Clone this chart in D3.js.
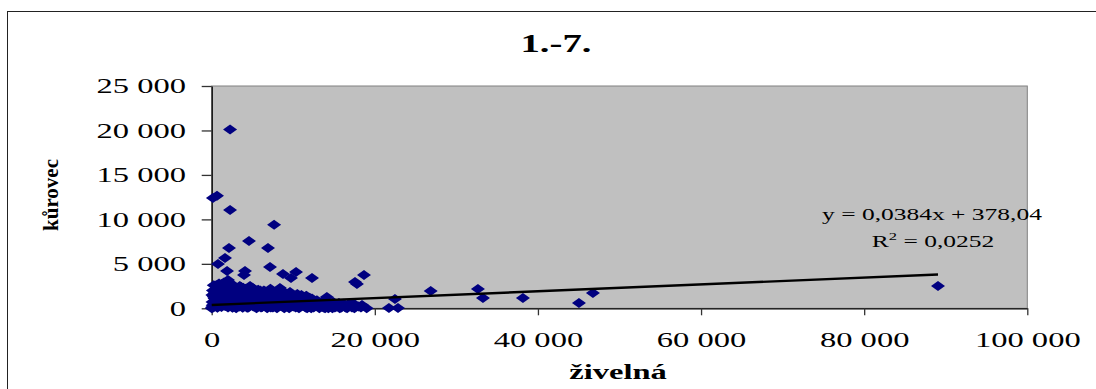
<!DOCTYPE html>
<html>
<head>
<meta charset="utf-8">
<script src="https://cdn.jsdelivr.net/npm/d3@7"></script>
<style>
  body { margin: 0; background: #fff; }
  svg { display: block; }
  text { font-family: "Liberation Serif", "Times New Roman", serif; fill: #000; }
</style>
</head>
<body>
<svg id="chart" width="1096" height="389"></svg>
<script>
// [živelná, kůrovec] pairs for the period 1.-7.
const samples = [
  // scattered larger values
  [2250, 20100], [150, 12400], [650, 12650], [2250, 11050], [7650, 9400],
  [4570, 7580], [2120, 6790], [6900, 6790], [1630, 5660], [770, 4990],
  [1880, 4200], [4080, 4200], [3960, 3750], [7150, 4650], [8740, 3860],
  [10340, 4090], [9720, 3410], [12300, 3410], [17570, 2960], [18670, 3750],
  [17810, 2740], [26850, 1950], [14120, 1270], [17310, 600], [18430, 370],
  [22470, 1050], [21730, 30], [22840, 30], [32640, 2170], [33260, 1160],
  [38160, 1160], [45030, 600], [46740, 1720], [89050, 2510], [2000, 3190],
  [4700, 2510], [8370, 2290], [9600, 1840],
  // dense group near the origin
  [0, 0], [50, 120], [120, 350], [200, 80], [300, 600], [350, 1100], [80, 1500],
  [150, 2000], [250, 2600], [400, 1800], [450, 300], [500, 900], [600, 1400],
  [650, 2200], [700, 50], [800, 700], [850, 1200], [900, 2800], [1000, 400],
  [1050, 1700], [1100, 2400], [1200, 150], [1300, 1000], [1350, 2000], [1450, 600],
  [1500, 2900], [1600, 1300], [1650, 250], [1750, 1900], [1800, 800], [1900, 2500],
  [2000, 100], [2100, 1500], [2200, 2100], [2300, 500], [2400, 1100], [2500, 2700],
  [2600, 300], [2700, 1700], [2800, 900], [2900, 2300], [3000, 0],
  [100, 700], [250, 1300], [550, 2600], [750, 1800], [950, 300], [1150, 900],
  [1250, 2700], [1400, 1500], [1550, 2200], [1700, 500], [1850, 1200], [2050, 2800],
  [2150, 700], [2350, 1900], [2450, 2400], [2550, 50], [2750, 1200], [2850, 2000],
  [2950, 600],
  [3100, 1300], [3200, 600], [3300, 2000], [3400, 200], [3500, 1600], [3600, 2400],
  [3700, 900], [3800, 50], [3900, 1900], [4000, 1200], [4100, 400], [4200, 2200],
  [4300, 800], [4400, 1500], [4500, 100], [4600, 2000], [4700, 1000], [4800, 500],
  [4900, 1700], [5000, 2300], [5100, 200], [5200, 1300], [5300, 700], [5400, 1900],
  [5500, 0], [5600, 1100], [5700, 2100], [5800, 400], [5900, 1500], [6000, 800],
  [6100, 1800], [6200, 150], [6300, 1200], [6400, 2000], [6500, 500], [6600, 1400],
  [6700, 900], [6800, 0], [6900, 1700], [7000, 300], [7100, 1100], [7200, 2200],
  [7300, 600], [7400, 1500], [7500, 100], [7600, 1000], [7700, 1800], [7800, 400],
  [7900, 1300], [8000, 0], [8100, 800], [8200, 1600], [8300, 250], [8500, 1100],
  [8600, 2000], [8700, 500], [8800, 1400], [8900, 0],
  [3150, 2200], [3350, 1000], [3450, 2500], [3550, 300], [3750, 1500], [3850, 2300],
  [4050, 700], [4250, 1700], [4350, 50], [4550, 1300], [4750, 2300], [4850, 900],
  [5050, 1500], [5150, 2000], [5350, 300], [5450, 1200], [5650, 1700], [5750, 600],
  [5950, 2000], [6050, 100], [6250, 1600], [6350, 800], [6550, 1900], [6650, 200],
  [6850, 1300], [6950, 700], [7150, 1700], [7250, 100], [7450, 1100], [7550, 1900],
  [7750, 700], [7850, 1600], [8050, 1300], [8250, 500], [8450, 1700], [8650, 200],
  [8850, 900],
  [9100, 900], [9200, 300], [9400, 1300], [9500, 0], [9700, 700], [9900, 1500],
  [10000, 200], [10200, 1000], [10400, 500], [10500, 1600], [10700, 0], [10900, 800],
  [11100, 1200], [11200, 300], [11400, 600], [11600, 1400], [11700, 0], [11900, 900],
  [12100, 400], [12300, 1100], [12500, 100], [12700, 700],
  [9000, 1600], [9300, 700], [9600, 1100], [9800, 300], [10100, 1300], [10300, 100],
  [10600, 900], [10800, 400], [11000, 1500], [11300, 900], [11500, 100], [11800, 500],
  [12000, 1200], [12200, 0], [12400, 800], [12600, 300], [12900, 900],
  [13000, 300], [13200, 0], [13500, 600], [13700, 100], [14000, 400], [14300, 0],
  [14600, 300], [14900, 700], [15100, 100], [15400, 400], [15700, 0], [16000, 300],
  [16400, 100], [16800, 500], [17200, 100], [18000, 200], [19000, 0],
  [13100, 500], [13400, 200], [13600, 800], [13900, 0], [14200, 600], [14500, 200],
  [14800, 0], [15000, 500], [15300, 200], [15600, 600], [15900, 100], [16200, 500],
  [16600, 0], [17000, 300], [17500, 0], [18300, 100]
];

const xTicks = [0, 20000, 40000, 60000, 80000, 100000];
const yTicks = [0, 5000, 10000, 15000, 20000, 25000];

// linear trend reported for the series
const trendSlope = 0.0384;
const trendIntercept = 378.04;
const trendEquation = "y = 0,0384x + 378,04";
const rSquared = "0,0252";

const titleText = "1.-7.";
const xTitle = "živelná";
const yTitle = "kůrovec";

// ---------------------------------------------------------------
const svg = d3.select("#chart");
const stretch = 1.55;               // wide lettering
const plot = { left: 211.7, right: 1027.3, top: 86, bottom: 308.3 };

const x = d3.scaleLinear().domain([0, 100000]).range([plot.left, plot.right]);
const y = d3.scaleLinear().domain([0, 25000]).range([plot.bottom, plot.top]);

const fmt = d3.formatLocale({ decimal: ",", thousands: " ", grouping: [3], currency: ["", ""] }).format(",d");

// chart frame
svg.append("rect").attr("width", 1096).attr("height", 389).attr("fill", "#fff");
svg.append("rect")
  .attr("x", 7.5).attr("y", 11.5).attr("width", 1100).attr("height", 400)
  .attr("fill", "none").attr("stroke", "#222").attr("stroke-width", 1);

// plot area
svg.append("rect")
  .attr("x", plot.left).attr("y", plot.top)
  .attr("width", plot.right - plot.left).attr("height", plot.bottom - plot.top)
  .attr("fill", "#c0c0c0").attr("stroke", "#808080").attr("stroke-width", 1);

// axes
const yAxis = svg.append("g")
  .attr("transform", `translate(${plot.left},0)`)
  .call(d3.axisLeft(y).tickValues(yTicks).tickFormat(fmt).tickSize(10).tickSizeOuter(0));
const xAxis = svg.append("g")
  .attr("transform", `translate(0,${plot.bottom})`)
  .call(d3.axisBottom(x).tickValues(xTicks).tickFormat(fmt).tickSize(7).tickSizeOuter(0));

[yAxis, xAxis].forEach(g => {
  g.select(".domain").attr("stroke", "#000").attr("stroke-width", 1.3);
  g.selectAll(".tick line").attr("stroke", "#333").attr("stroke-width", 1.3);
  g.selectAll("text").style("font-size", "21px").attr("fill", "#000");
});
yAxis.selectAll(".tick text")
  .attr("x", null).attr("dy", "0.32em")
  .attr("transform", `translate(-25.7,0) scale(${stretch},1)`);
xAxis.selectAll(".tick text")
  .attr("y", null).attr("dy", null)
  .attr("transform", `translate(0,39) scale(${stretch},1)`);

// markers: flat diamonds
const diamond = "M0,-5L7,0L0,5L-7,0Z";
svg.append("g").selectAll("path")
  .data(samples)
  .join("path")
  .attr("d", diamond)
  .attr("transform", d => `translate(${x(d[0])},${y(d[1])})`)
  .attr("fill", "#000080");

// linear trend line over the data range
const xMax = d3.max(samples, d => d[0]);
const trend = [0, xMax].map(v => [v, trendSlope * v + trendIntercept]);
svg.append("path")
  .datum(trend)
  .attr("d", d3.line().x(d => x(d[0])).y(d => y(d[1])))
  .attr("fill", "none").attr("stroke", "#000").attr("stroke-width", 2.4);

// trend equation
svg.append("text")
  .attr("transform", `translate(932,220) scale(1.5,1)`)
  .attr("text-anchor", "middle").style("font-size", "17px")
  .text(trendEquation);
const r2 = svg.append("text")
  .attr("transform", `translate(933,247) scale(1.5,1)`)
  .attr("text-anchor", "middle").style("font-size", "17px");
r2.append("tspan").text("R");
r2.append("tspan").attr("dy", -7).style("font-size", "11px").text("2");
r2.append("tspan").attr("dy", 7).text(" = " + rSquared);

// titles
svg.append("text")
  .attr("transform", `translate(556,52) scale(${stretch},1)`)
  .attr("text-anchor", "middle").style("font-size", "25px").style("font-weight", "bold")
  .text(titleText);
svg.append("text")
  .attr("transform", `translate(618,379) scale(${stretch},1)`)
  .attr("text-anchor", "middle").style("font-size", "21px").style("font-weight", "bold")
  .text(xTitle);
svg.append("text")
  .attr("transform", `translate(58,195) rotate(-90)`)
  .attr("text-anchor", "middle").style("font-size", "21px").style("font-weight", "bold")
  .text(yTitle);
</script>
</body>
</html>
